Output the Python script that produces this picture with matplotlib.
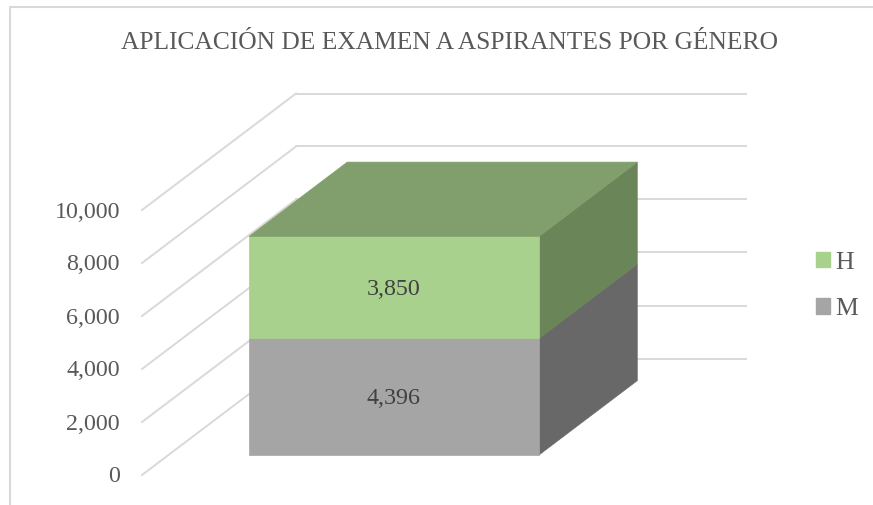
import matplotlib
matplotlib.use("Agg")
from matplotlib import pyplot as plt
from matplotlib.patches import Patch, Polygon

plt.rcParams["font.family"] = ["Liberation Serif", "DejaVu Serif"]

title = "APLICACIÓN DE EXAMEN A ASPIRANTES POR GÉNERO"
series = ["M", "H"]
values = [4396, 3850]
ticks = [0, 2000, 4000, 6000, 8000, 10000]

front_colors = ["#A5A5A5", "#A9D18E"]
side_colors = ["#686868", "#6A8558"]
top_color = "#819F6C"
grid_color = "#D9D9D9"
text_color = "#595959"

# oblique projection of the excel 3d box, x in pixels, y in value units
PX_PER_UNIT = 0.0265
DEPTH_X = 154
DEPTH_Y = 116.5 / PX_PER_UNIT
TEXT_DROP = 2 / PX_PER_UNIT


def project(x, depth, value):
    return x + DEPTH_X * depth, value + DEPTH_Y * depth


def face(ax, corners, color):
    pts = [project(*c) for c in corners]
    ax.add_patch(Polygon(pts, closed=True, facecolor=color, edgecolor=color, linewidth=0.5, zorder=3))


def main():
    fig = plt.figure(figsize=(8.73, 5.05), dpi=100)
    ax = fig.add_axes([0, 0, 1, 1])
    ax.set_xlim(0, 873)
    ax.set_ylim((475 - 505) / PX_PER_UNIT, 475 / PX_PER_UNIT)
    ax.axis("off")

    # chart frame
    fig.add_artist(plt.Line2D([9.5 / 873, 9.5 / 873, 1], [0, 1 - 6.5 / 505, 1 - 6.5 / 505],
                              color=grid_color, linewidth=1.5))

    wall_x = 142
    wall_end = 746
    for t in ticks:
        xs, ys = zip(project(wall_x, 0, t), project(wall_x, 1, t))
        ax.plot(xs, ys, color=grid_color, linewidth=1.4, zorder=1)
        xs, ys = zip(project(wall_x, 1, t), project(wall_end - DEPTH_X, 1, t))
        ax.plot(xs, ys, color=grid_color, linewidth=1.4, zorder=1)
        ax.text(120, t - TEXT_DROP, f"{t:,}", ha="right", va="center", fontsize=17.3, color=text_color)

    d0, d1 = 0.172, 0.81
    x0, x1 = 249 - DEPTH_X * d0, 539 - DEPTH_X * d0
    base = 0
    for name, v, fc, sc in zip(series, values, front_colors, side_colors):
        top = base + v
        face(ax, [(x1, d0, base), (x1, d1, base), (x1, d1, top), (x1, d0, top)], sc)
        face(ax, [(x0, d0, base), (x1, d0, base), (x1, d0, top), (x0, d0, top)], fc)
        lx, ly = project((x0 + x1) / 2, d0, base + v / 2)
        ax.text(lx, ly - TEXT_DROP, f"{v:,}", ha="center", va="center", fontsize=17.3, color="#404040", zorder=4)
        base = top
    face(ax, [(x0, d0, base), (x1, d0, base), (x1, d1, base), (x0, d1, base)], top_color)

    handles = [Patch(color=front_colors[1]), Patch(color=front_colors[0])]
    ax.legend(handles, [series[1], series[0]], loc="center left", bbox_to_anchor=(816 / 873, 1 - 286 / 505),
              frameon=False, fontsize=18.5, labelcolor=text_color, handlelength=0.55, handleheight=0.55,
              handletextpad=0.2, labelspacing=0.95, borderpad=0, borderaxespad=0)

    fig.text(450 / 873, 1 - 43 / 505, title, ha="center", va="center", fontsize=18.4, color=text_color)

    fig.savefig("out.png", dpi=100)


if __name__ == '__main__':
    main()
